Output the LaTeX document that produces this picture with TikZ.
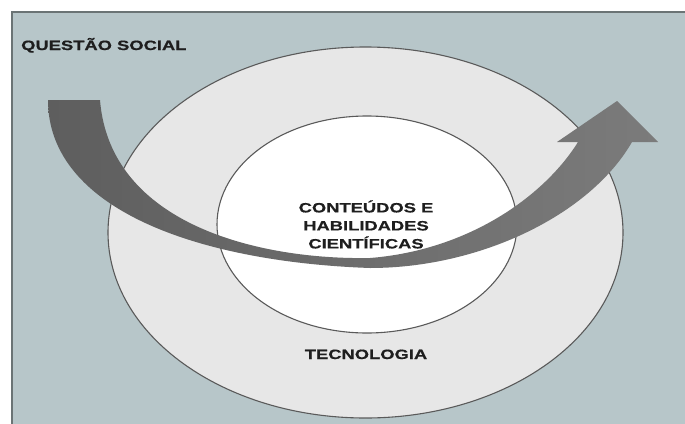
\documentclass[tikz,border=0pt]{standalone}
\usepackage{fontspec}
\newfontfamily\lbl{Liberation Sans Bold}[FakeStretch=1.36, FakeBold=0.6]
\usetikzlibrary{shapes.geometric}

\definecolor{bgpanel}{HTML}{B7C6C9}
\definecolor{panelrule}{HTML}{6B7475}
\definecolor{ringfill}{HTML}{E7E7E7}
\definecolor{ringline}{HTML}{5A5A5A}
\definecolor{arrowdark}{HTML}{5E5E5E}
\definecolor{arrowlight}{HTML}{7B7B7B}
\definecolor{labelink}{HTML}{1E1E1E}

\tikzset{
  ring/.style={ellipse, draw=ringline, line width=1.1pt, inner sep=0pt},
  caption/.style={font=\lbl\fontsize{13.5}{18}\selectfont, text=labelink,
                  inner sep=0pt, align=center},
  sweep/.style={left color=arrowdark, right color=arrowlight}
}

\begin{document}
\begin{tikzpicture}[x=1pt, y=-1pt]
  \useasboundingbox (0,0) rectangle (685,423);
  \fill[white] (0,0) rectangle (685,423);

  % framed panel
  \fill[bgpanel] (12,12) rectangle (690,430);
  \draw[panelrule, line width=1.5pt] (12,430) -- (12,12) -- (690,12);

  % nested rings
  \node[ring, fill=ringfill, minimum width=515pt, minimum height=371pt] (outer) at (365.5,232.5) {};
  \node[ring, fill=white, minimum width=300pt, minimum height=217pt] (inner) at (367,224.5) {};

  % curved arrow sweeping through the rings
  \path[sweep]
    (48,100) .. controls (48,210) and (200,262) .. (370,268)
    .. controls (480,268) and (590,215) .. (632,142)
    -- (658,142) -- (617,101) -- (557,142) -- (578,142)
    .. controls (545,195) and (470,250) .. (370,258)
    .. controls (260,260) and (110,225) .. (100,100)
    -- cycle;

  % labels
  \node[caption, anchor=base west] (social) at (21,50) {QUESTÃO SOCIAL};
  \node[caption] (core) at (366,224.5) {CONTEÚDOS E\\HABILIDADES\\CIENTÍFICAS};
  \node[caption, anchor=base] (tech) at (366,359) {TECNOLOGIA};
\end{tikzpicture}
\end{document}
